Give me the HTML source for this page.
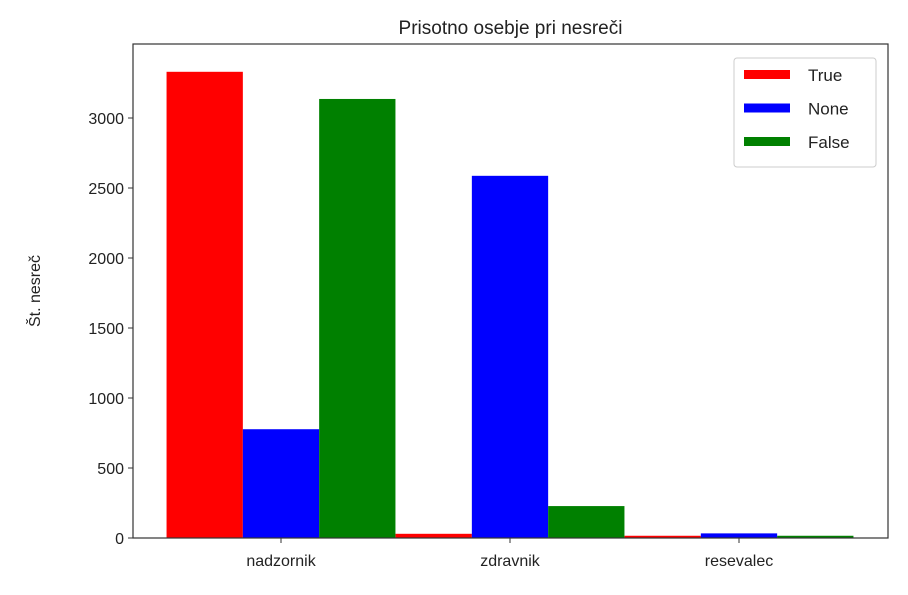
<!DOCTYPE html>
<html><head><meta charset="utf-8"><style>
body{margin:0;background:#fff;}
svg text{font-family:"Liberation Sans","DejaVu Sans",sans-serif;fill:#222;}
</style></head><body>
<svg id="chart" width="908" height="590"></svg>
<script>
const categories=["nadzornik","zdravnik","resevalec"];
const seriesNames=["True","None","False"];
const seriesColors=["#ff0000","#0000ff","#008000"];
const trueValues=[3330,30,16];
const noneValues=[777,2587,33];
const falseValues=[3136,228,16];
const yTicks=[0,500,1000,1500,2000,2500,3000];
const series=[trueValues,noneValues,falseValues];

const NS="http://www.w3.org/2000/svg";
const svg=document.getElementById('chart');
const L=133,R=888,T=44,B=538;
const yPerUnit=(538-118)/3000;
const y=v=>B-v*yPerUnit;
const groupW=229, barW=76.3, firstCenter=281;
const xc=i=>firstCenter+i*groupW;
function mk(tag,attrs){const e=document.createElementNS(NS,tag);for(const k in attrs)e.setAttribute(k,attrs[k]);svg.appendChild(e);return e;}

series.forEach((vals,s)=>{
  vals.forEach((v,i)=>{
    const r=mk('rect',{x:xc(i)+(s-1.5)*barW,y:y(v),width:barW,height:B-y(v),fill:seriesColors[s]});
    
    
  });
});

const frame=mk('rect',{x:L,y:T,width:R-L,height:B-T,fill:'none',stroke:'#333','stroke-width':1.2});



yTicks.forEach(t=>{
  mk('line',{x1:L-5,x2:L,y1:y(t),y2:y(t),stroke:'#333'});
  const tx=mk('text',{x:L-9,y:y(t)+6,'text-anchor':'end','font-size':16});
  tx.textContent=t;
  
  
});
categories.forEach((c,i)=>{
  mk('line',{x1:xc(i),x2:xc(i),y1:B,y2:B+5,stroke:'#333'});
  const tx=mk('text',{x:xc(i),y:B+28,'text-anchor':'middle','font-size':16});
  tx.textContent=c;
  
  
});

const title=mk('text',{x:(L+R)/2,y:34,'text-anchor':'middle','font-size':19});
title.textContent='Prisotno osebje pri nesreči';



const yl=mk('text',{x:0,y:0,'text-anchor':'middle','font-size':16,transform:'translate(40,291) rotate(-90)'});
yl.textContent='Št. nesreč';



const lg=mk('rect',{x:734,y:58,width:142,height:109,rx:3,fill:'#fff',stroke:'#ccc'});


seriesNames.forEach((n,s)=>{
  const yy=70+s*33.5;
  mk('rect',{x:744,y:yy,width:46,height:9,fill:seriesColors[s]});
  const tx=mk('text',{x:808,y:yy+11,'font-size':17});
  tx.textContent=n;
  
  
});
</script>
</body></html>
